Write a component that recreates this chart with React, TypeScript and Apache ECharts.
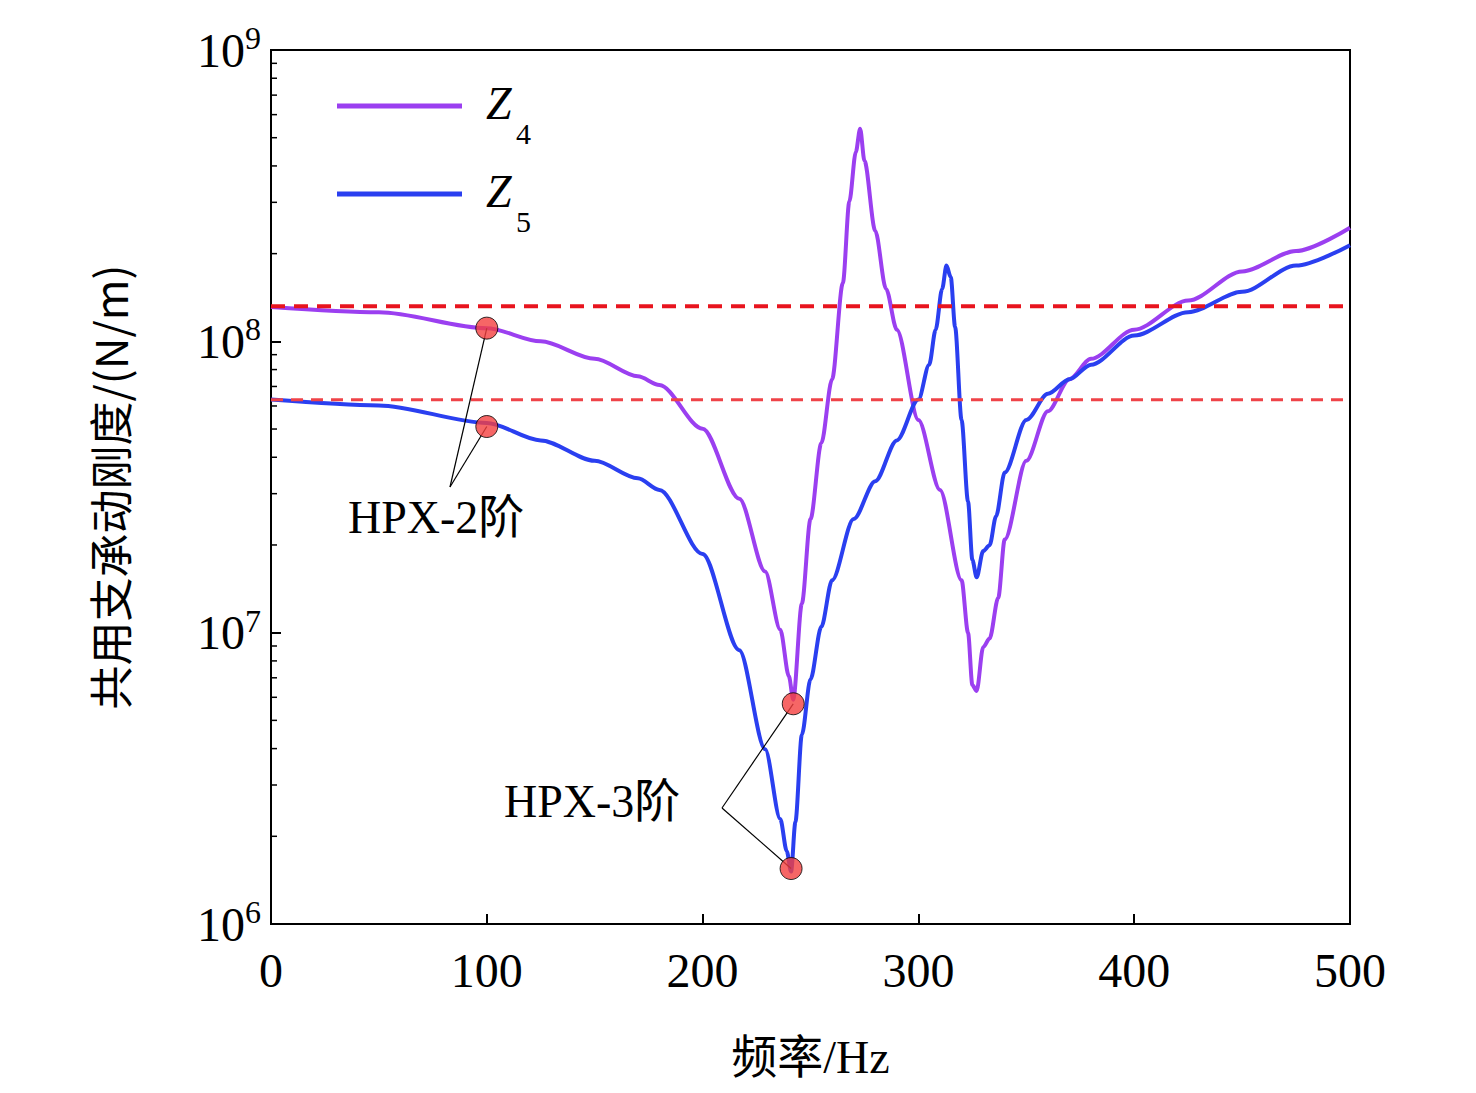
import React, { useEffect, useRef } from "react";
import * as echarts from "echarts";

const freqZ4 = [0, 50, 100, 125, 150, 170, 180, 200, 217, 229, 236, 240, 242, 246, 250, 255, 260, 265, 268, 271, 273, 275, 280, 285, 290, 300, 310, 320, 323, 325, 327, 330, 333, 337, 340, 350, 360, 370, 380, 400, 425, 450, 475, 500];
const valZ4 = [8.118, 8.10, 8.045, 8.0, 7.94, 7.88, 7.85, 7.70, 7.46, 7.21, 7.01, 6.85, 6.77, 7.1, 7.39, 7.65, 7.87, 8.2, 8.48, 8.65, 8.73, 8.62, 8.38, 8.18, 8.04, 7.73, 7.49, 7.18, 7.0, 6.82, 6.8, 6.95, 6.98, 7.12, 7.32, 7.59, 7.76, 7.87, 7.94, 8.04, 8.14, 8.24, 8.31, 8.39];
const freqZ5 = [0, 50, 100, 125, 150, 170, 180, 200, 217, 229, 236, 239, 241, 243, 246, 250, 255, 260, 270, 280, 290, 300, 305, 308, 311, 313, 315, 317, 320, 323, 325, 327, 330, 333, 336, 340, 350, 360, 370, 380, 400, 425, 450, 475, 500];
const valZ5 = [7.8, 7.78, 7.72, 7.66, 7.59, 7.53, 7.49, 7.27, 6.94, 6.60, 6.36, 6.25, 6.18, 6.35, 6.65, 6.84, 7.02, 7.18, 7.39, 7.52, 7.66, 7.8, 7.92, 8.04, 8.18, 8.26, 8.22, 8.05, 7.73, 7.45, 7.25, 7.19, 7.28, 7.3, 7.4, 7.55, 7.73, 7.82, 7.87, 7.92, 8.02, 8.1, 8.17, 8.26, 8.33];
const refLines = [1.32e8, 6.3e7];
const marks2 = [[100, 1.11e8], [100, 5.1e7]];
const marks3 = [[242, 5.7e6], [241, 1.55e6]];
const decades = [6, 7, 8];

const toPts = (f: number[], v: number[]) => f.map((x, i) => [x, Math.pow(10, v[i])]);
const FONT = "Liberation Serif";

export default function App() {
  const ref = useRef<HTMLDivElement>(null);
  useEffect(() => {
    document.body.style.margin = "0";
    const chart = echarts.init(ref.current!, null, { renderer: "svg" });
    const opt: any = {
      animation: false,
      backgroundColor: "#fff",
      grid: { left: 271, top: 50, width: 1079, height: 874 },
      xAxis: {
        type: "value", min: 0, max: 500, interval: 100,
        axisLine: { lineStyle: { color: "#000", width: 2 } },
        axisTick: { inside: true, length: 10, lineStyle: { color: "#000", width: 2 } },
        splitLine: { show: false },
        axisLabel: { color: "#000", fontFamily: FONT, fontSize: 48, margin: 22 },
        name: "频率/Hz", nameLocation: "middle", nameGap: 110,
        nameTextStyle: { color: "#000", fontFamily: FONT + ", Noto Sans CJK SC", fontSize: 46 },
      },
      yAxis: {
        type: "log", logBase: 10, min: 1e6, max: 1e9,
        axisLine: { lineStyle: { color: "#000", width: 2 } },
        axisTick: { inside: true, length: 10, lineStyle: { color: "#000", width: 2 } },
        splitLine: { show: false },
        axisLabel: {
          formatter: (v: number) => `{b|10}{s|${Math.round(Math.log10(v))}}`,
          rich: {
            b: { fontFamily: FONT, fontSize: 48, color: "#000" },
            s: { fontFamily: FONT, fontSize: 32, color: "#000", verticalAlign: "top", padding: [0, 0, 24, 0] },
          },
          margin: 10,
        },
        name: "共用支承动刚度/(N/m)", nameLocation: "middle", nameGap: 140,
        nameTextStyle: { color: "#000", fontFamily: "Noto Sans CJK SC", fontSize: 44 },
      },
      series: [
        { type: "line", data: toPts(freqZ4, valZ4), smooth: 0.3, smoothMonotone: "x", symbol: "none", lineStyle: { color: "#9b3ff0", width: 4 } },
        { type: "line", data: toPts(freqZ5, valZ5), smooth: 0.3, smoothMonotone: "x", symbol: "none", lineStyle: { color: "#2a3ff0", width: 4 } },
        { type: "line", data: [[0, refLines[0]], [500, refLines[0]]], symbol: "none", lineStyle: { color: "#e8141e", width: 4, type: [14, 9] } },
        { type: "line", data: [[0, refLines[1]], [500, refLines[1]]], symbol: "none", lineStyle: { color: "#ef4348", width: 3, type: [12, 8] } },
        { type: "scatter", data: [...marks2, ...marks3], symbolSize: 22, z: 10, itemStyle: { color: "#f44040", borderColor: "#000", borderWidth: 1 } },
      ],
    };
    chart.setOption(opt);
    const p = (d: number[]) => chart.convertToPixel({ gridIndex: 0 }, d) as number[];
    const a2 = [450, 487], a3 = [722, 808];
    const lines: any[] = [];
    marks2.forEach((m) => { const q = p(m); lines.push({ type: "line", shape: { x1: a2[0], y1: a2[1], x2: q[0], y2: q[1] }, style: { stroke: "#000", lineWidth: 1.2 }, z: 5 }); });
    marks3.forEach((m) => { const q = p(m); lines.push({ type: "line", shape: { x1: a3[0], y1: a3[1], x2: q[0], y2: q[1] }, style: { stroke: "#000", lineWidth: 1.2 }, z: 5 }); });
    const minors: any[] = [];
    decades.forEach((d) => {
      for (let k = 2; k <= 9; k++) {
        const q = p([0, k * Math.pow(10, d)]);
        minors.push({ type: "line", shape: { x1: 271, y1: q[1], x2: 277, y2: q[1] }, style: { stroke: "#000", lineWidth: 1.5 } });
      }
    });
    const legendItem = (y: number, color: string, sub: string) => [
      { type: "line", shape: { x1: 337, y1: y, x2: 462, y2: y }, style: { stroke: color, lineWidth: 5 } },
      { type: "text", x: 486, y: y - 26, style: { text: "Z", font: `italic 46px ${FONT}`, fill: "#000" } },
      { type: "text", x: 516, y: y + 12, style: { text: sub, font: `30px ${FONT}`, fill: "#000" } },
    ];
    chart.setOption({
      graphic: [
        ...lines,
        ...minors,
        { type: "text", x: 348, y: 494, style: { text: "HPX-2阶", font: `46px ${FONT}, Noto Sans CJK SC`, fill: "#000" } },
        { type: "text", x: 504, y: 778, style: { text: "HPX-3阶", font: `46px ${FONT}, Noto Sans CJK SC`, fill: "#000" } },
        ...legendItem(106, "#9b3ff0", "4"),
        ...legendItem(194, "#2a3ff0", "5"),
        { type: "rect", shape: { x: 271, y: 50, width: 1079, height: 874 }, style: { fill: "none", stroke: "#000", lineWidth: 2 }, silent: true },
      ],
    });
    return () => chart.dispose();
  }, []);
  return <div ref={ref} style={{ width: 1476, height: 1093 }} />;
}
